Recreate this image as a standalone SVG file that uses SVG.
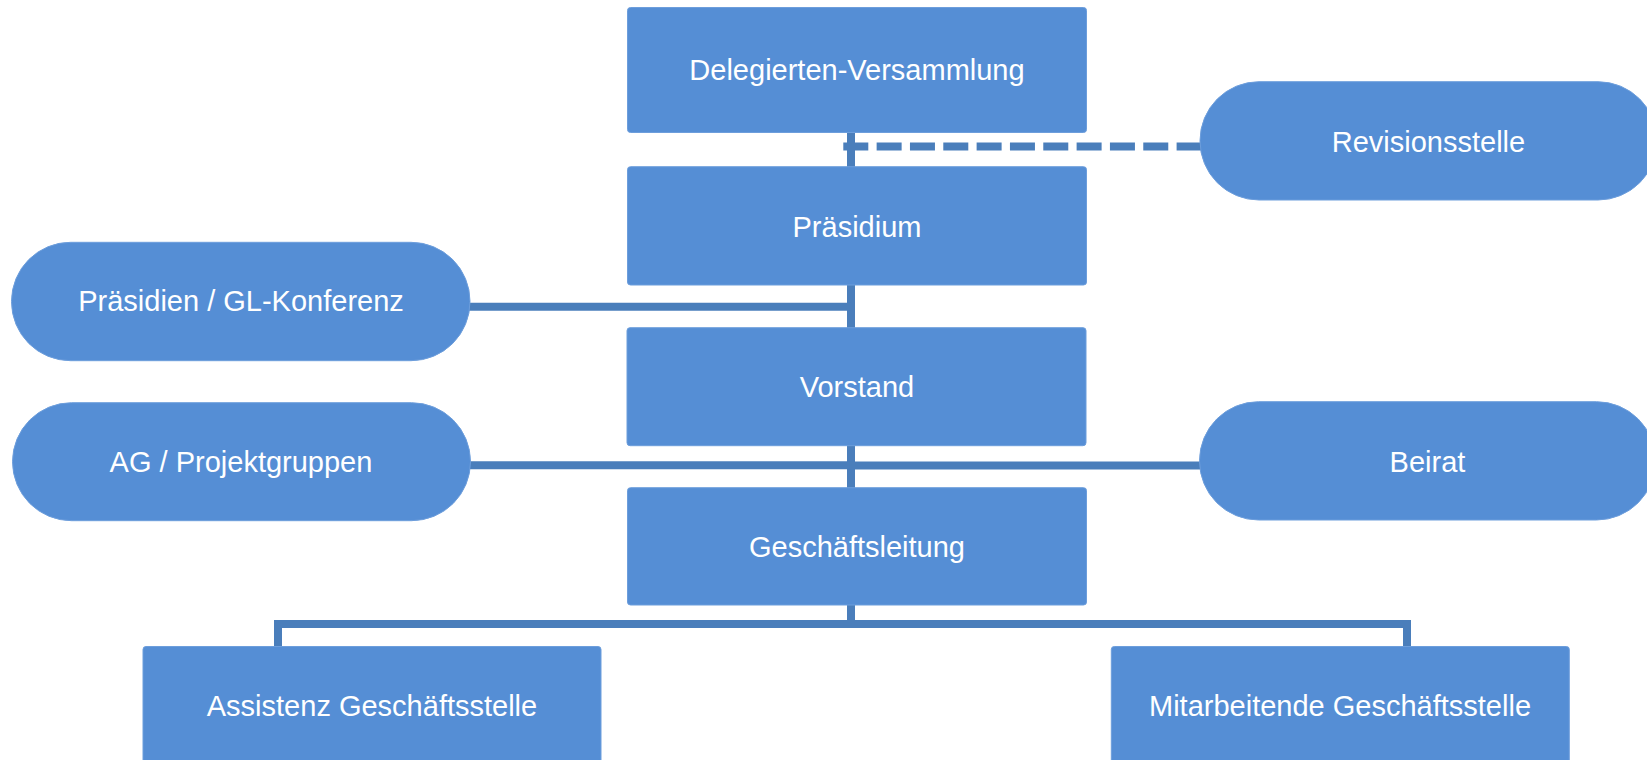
<svg xmlns="http://www.w3.org/2000/svg" width="1647" height="760" viewBox="0 0 1647 760">
<style>
.box{fill:#558ed5;stroke:#6d9edc;stroke-width:1}
.pill{fill:#558ed5;stroke:#6d9edc;stroke-width:1}
.lbl{font-family:"Liberation Sans",Arial,sans-serif;font-size:29px;fill:#ffffff;text-anchor:middle}
.ln{stroke:#4a7ebb;stroke-width:8;fill:none}
</style>
<rect width="1647" height="760" fill="#ffffff"/>
<g id="connectors">
<line class="ln" x1="851" y1="130" x2="851" y2="624"/>
<line class="ln" x1="843.3" y1="146.5" x2="1205" y2="146.5" stroke-dasharray="25 8.33"/>
<line class="ln" x1="465" y1="306.7" x2="851" y2="306.7"/>
<line class="ln" x1="465" y1="465.2" x2="851" y2="465.2"/>
<line class="ln" x1="851" y1="465.5" x2="1205" y2="465.5"/>
<path class="ln" d="M278,648 V624 H1407 V648"/>
</g>
<g id="delegierten">
<rect class="box" x="627.5" y="7.5" width="459" height="125" rx="3"/>
<text class="lbl" x="857" y="80">Delegierten-Versammlung</text>
</g>
<g id="praesidium">
<rect class="box" x="627.5" y="166.7" width="459" height="118.3" rx="3"/>
<text class="lbl" x="857" y="237">Präsidium</text>
</g>
<g id="vorstand">
<rect class="box" x="627" y="327.7" width="459" height="118" rx="3"/>
<text class="lbl" x="857" y="397">Vorstand</text>
</g>
<g id="geschaeftsleitung">
<rect class="box" x="627.5" y="487.7" width="459" height="117.3" rx="3"/>
<text class="lbl" x="857" y="557">Geschäftsleitung</text>
</g>
<g id="revisionsstelle">
<rect class="pill" x="1200" y="81.7" width="457" height="118.3" rx="59" ry="59"/>
<text class="lbl" x="1428.5" y="151.5">Revisionsstelle</text>
</g>
<g id="praesidien-gl">
<rect class="pill" x="11.5" y="242.3" width="458.5" height="118.4" rx="59" ry="59"/>
<text class="lbl" x="241" y="311">Präsidien / GL-Konferenz</text>
</g>
<g id="ag-projektgruppen">
<rect class="pill" x="12.5" y="402.7" width="458" height="118" rx="59" ry="59"/>
<text class="lbl" x="241" y="471.5">AG / Projektgruppen</text>
</g>
<g id="beirat">
<rect class="pill" x="1199.5" y="401.7" width="456" height="118.3" rx="59" ry="59"/>
<text class="lbl" x="1427.5" y="471.5">Beirat</text>
</g>
<g id="assistenz">
<rect class="box" x="143" y="646.5" width="458" height="120" rx="3"/>
<text class="lbl" x="372" y="716">Assistenz Geschäftsstelle</text>
</g>
<g id="mitarbeitende">
<rect class="box" x="1111.3" y="646.5" width="458" height="120" rx="3"/>
<text class="lbl" x="1340" y="716">Mitarbeitende Geschäftsstelle</text>
</g>
</svg>
